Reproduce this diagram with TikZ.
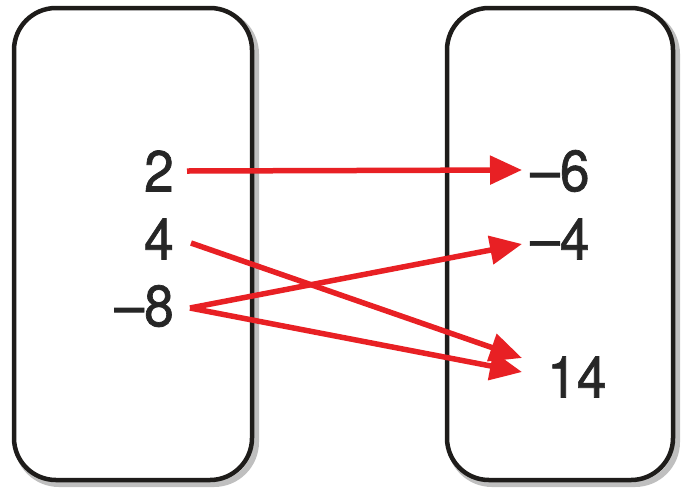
\documentclass[tikz,border=0pt]{standalone}
\usepackage{fontspec}
\setmainfont{TeX Gyre Heros}
\newfontfamily\numfont[FakeBold=1.2]{TeX Gyre Heros}
\usetikzlibrary{arrows.meta}
\definecolor{arrred}{RGB}{232,32,36}
\definecolor{boxline}{RGB}{30,28,26}
\begin{document}
\begin{tikzpicture}[x=1pt,y=-1pt,
  setbox/.style={draw=boxline,line width=4.5pt,rounded corners=42pt},
  boxshadow/.style={draw=black!25,line width=6pt,rounded corners=42pt},
  num/.style={inner sep=0pt,font=\numfont\fontsize{58}{60}\selectfont,text=black!85,xscale=0.92},
  arr/.style={draw=arrred,line width=5.5pt,-{Triangle[length=32pt,width=28pt]}}]
\useasboundingbox (0,0) rectangle (682,491);
% shadows
\draw[boxshadow] (17,12) rectangle (256,484);
\draw[boxshadow] (450,12) rectangle (677,484);
% boxes
\draw[setbox,fill=white] (14,8) rectangle (252,480);
\draw[setbox,fill=white] (447,8) rectangle (673,480);
% domain
\node[num,anchor=east] (two) at (174,171) {2};
\node[num,anchor=east] (four) at (174,239) {4};
\node[num,anchor=east] (m8) at (174,306) {–8};
% range
\node[num,anchor=west] (m6) at (530,171) {–6};
\node[num,anchor=west] (m4) at (530,239) {–4};
\node[num,anchor=west] (f14) at (547,377) {14};
% arrows
\coordinate (t6) at (522,170);
\coordinate (t4) at (522,244);
\coordinate (t14a) at (522,358);
\coordinate (t14b) at (522,372);
\coordinate (s2) at (187,171);
\coordinate (s4) at (191,243);
\coordinate (s8) at (190,308);
\draw[arr] (s2) -- (t6);
\draw[arr] (s4) -- (t14a);
\draw[arr] (s8) -- (t4);
\draw[arr] (s8) -- (t14b);
\end{tikzpicture}
\end{document}
